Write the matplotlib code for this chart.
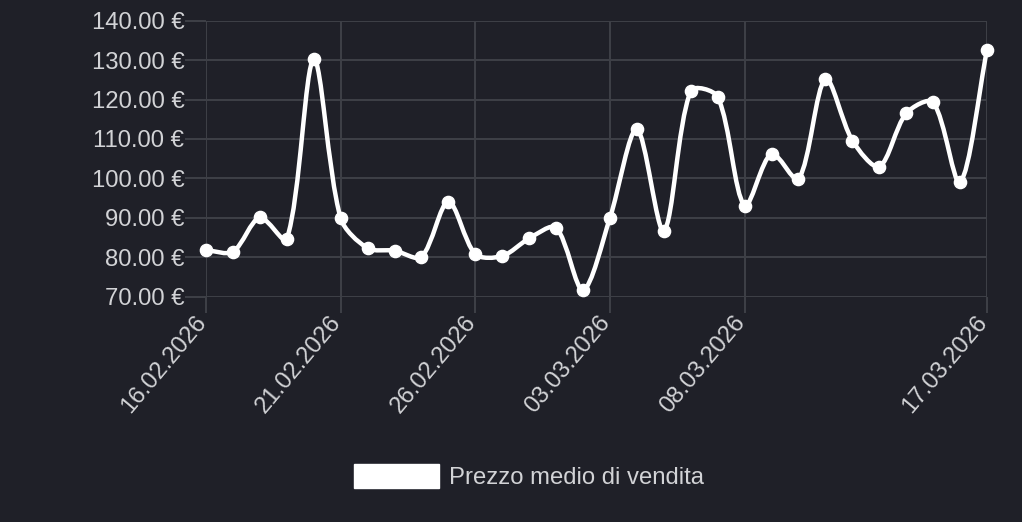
import numpy as np
import matplotlib
matplotlib.use("Agg")
import matplotlib.pyplot as plt
from matplotlib.path import Path
from matplotlib.patches import PathPatch, Rectangle
import matplotlib.transforms as mtransforms

# ---- data ----
dates = ["16.02.2026", "17.02.2026", "18.02.2026", "19.02.2026", "20.02.2026",
         "21.02.2026", "22.02.2026", "23.02.2026", "24.02.2026", "25.02.2026",
         "26.02.2026", "27.02.2026", "28.02.2026", "01.03.2026", "02.03.2026",
         "03.03.2026", "04.03.2026", "05.03.2026", "06.03.2026", "07.03.2026",
         "08.03.2026", "09.03.2026", "10.03.2026", "11.03.2026", "12.03.2026",
         "13.03.2026", "14.03.2026", "15.03.2026", "16.03.2026", "17.03.2026"]
prices = [81.8, 81.4, 90.1, 84.6, 130.2, 89.9, 82.3, 81.7, 80.1, 94.1,
          80.8, 80.3, 84.8, 87.5, 71.7, 90.0, 112.5, 86.7, 122.2, 120.7,
          93.1, 106.3, 99.8, 125.2, 109.6, 103.0, 116.5, 119.3, 99.0, 132.6]
tick_labels = ["16.02.2026", "21.02.2026", "26.02.2026", "03.03.2026",
               "08.03.2026", "17.03.2026"]
y_ticks = [70, 80, 90, 100, 110, 120, 130, 140]
series_label = "Prezzo medio di vendita"

BG = "#1f2028"
GRID = "#3e4047"
TEXT = "#d2d3d6"
FONT = "Liberation Sans"
FS = 17.2
TENSION = 0.3

x = np.arange(len(dates), dtype=float)
y = np.array(prices, dtype=float)

fig = plt.figure(figsize=(10.22, 5.22), dpi=100, facecolor=BG)
W, H = 1022, 522
ax = fig.add_axes([206 / W, 1 - 296.7 / H, (987 - 206) / W, (296.7 - 20.7) / H])
ax.set_facecolor(BG)
ax.set_xlim(0, len(dates) - 1)
ax.set_ylim(70, 140)

# Chart.js-style bezier spline (tension), computed in display space
pts = ax.transData.transform(np.column_stack([x, y]))
n = len(pts)
verts_px = [pts[0]]
codes = [Path.MOVETO]
cp_prev = [None] * n
cp_next = [None] * n
for i in range(n):
    prev = pts[i - 1] if i > 0 else pts[i]
    cur = pts[i]
    nxt = pts[i + 1] if i < n - 1 else pts[i]
    d01 = np.hypot(*(cur - prev))
    d12 = np.hypot(*(nxt - cur))
    tot = d01 + d12
    s01 = d01 / tot if tot else 0
    s12 = d12 / tot if tot else 0
    cp_prev[i] = cur - TENSION * s01 * (nxt - prev)
    cp_next[i] = cur + TENSION * s12 * (nxt - prev)
for i in range(n - 1):
    verts_px += [cp_next[i], cp_prev[i + 1], pts[i + 1]]
    codes += [Path.CURVE4] * 3
verts = ax.transData.inverted().transform(np.array(verts_px))
patch = PathPatch(Path(verts, codes), facecolor="none", edgecolor="white",
                  lw=3.2, transform=ax.transData, clip_on=False, zorder=3,
                  capstyle="round", joinstyle="round")
ax.add_patch(patch)
ax.plot(x, y, linestyle="none", marker="o", ms=8.8, color="white", clip_on=False, zorder=4)

# ticks and grid
tick_pos = [dates.index(t) for t in tick_labels]
ax.set_xticks(tick_pos)
ax.set_xticklabels(tick_labels, rotation=50, ha="right", va="top",
                   fontsize=FS, color=TEXT, family=FONT)
ax.set_yticks(y_ticks)
ax.set_yticklabels([f"{v:.2f} €" for v in y_ticks], fontsize=FS, color=TEXT, family=FONT)
ax.tick_params(axis="x", length=11.5, width=1.4, color=GRID, pad=0)
ax.tick_params(axis="y", length=15, width=1.4, color=GRID, pad=0.5)
ax.grid(True, color=GRID, lw=1.4)
ax.set_axisbelow(True)
for s in ax.spines.values():
    s.set_visible(False)

offset = mtransforms.ScaledTranslation(5 / 100, 1 / 100, fig.dpi_scale_trans)
for lab in ax.get_xticklabels():
    lab.set_transform(lab.get_transform() + offset)

# legend
handle = Rectangle((0, 0), 1, 1, facecolor="white", edgecolor="white")
leg = fig.legend([handle], [series_label], loc="center",
                 bbox_to_anchor=(529 / W, 1 - 476.5 / H), frameon=False,
                 handlelength=3.55, handleheight=1.15, handletextpad=0.45,
                 prop={"family": FONT, "size": FS})
for t in leg.get_texts():
    t.set_color(TEXT)

fig.savefig("out.png", dpi=100, facecolor=BG)
